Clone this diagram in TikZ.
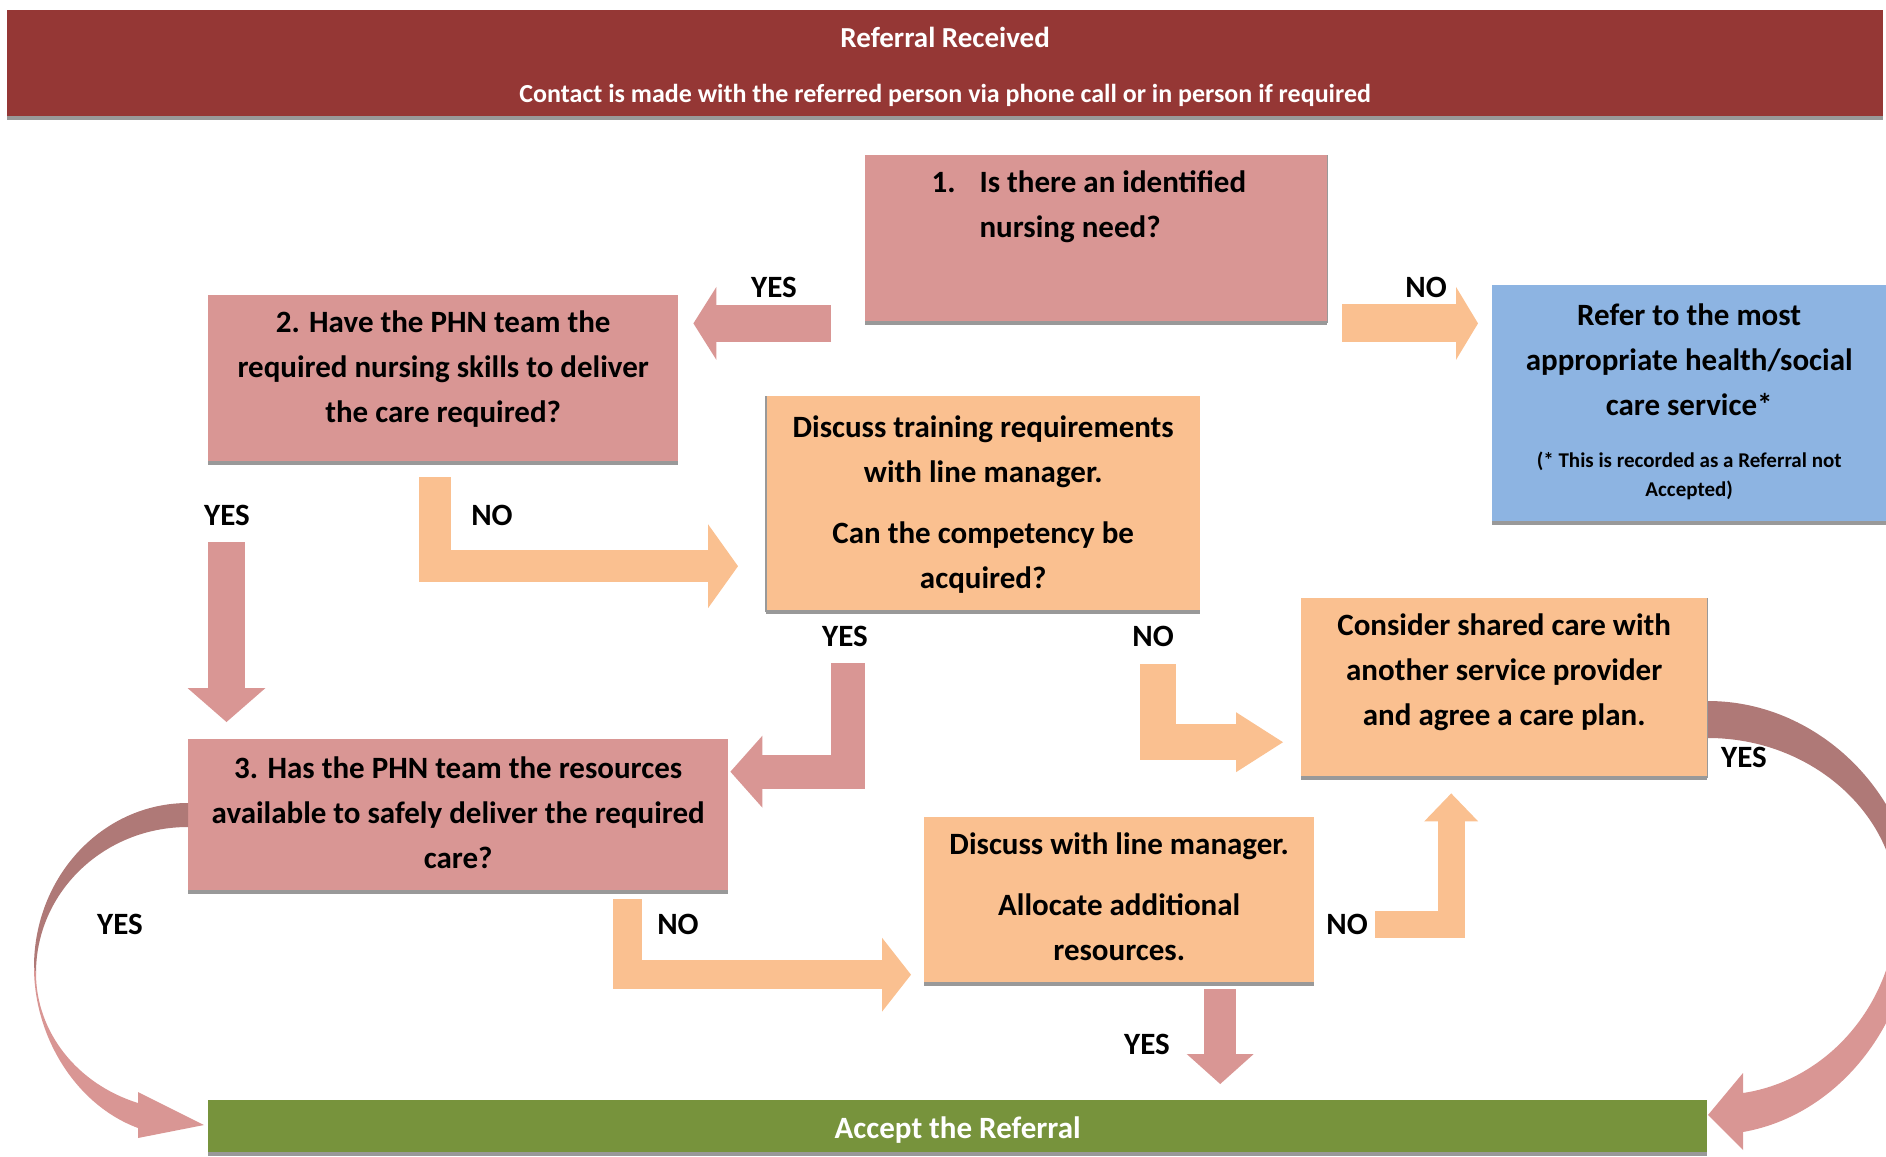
\documentclass[tikz,border=0pt]{standalone}
\usepackage{fontspec}
\setmainfont{Carlito}
\usetikzlibrary{arrows.meta, positioning, calc}
\definecolor{headred}{HTML}{953735}
\definecolor{rosefill}{HTML}{D99694}
\definecolor{peachfill}{HTML}{FAC090}
\definecolor{skyfill}{HTML}{8DB4E2}
\definecolor{leaffill}{HTML}{77933C}
\definecolor{mauve}{HTML}{AF7977}
\definecolor{edgegray}{HTML}{999999}
\tikzset{
  boxtext/.style={font=\fontsize{31}{45}\selectfont\bfseries}
}
\tikzset{
  flowbox/.style={boxtext, anchor=north west, inner sep=0pt, align=center},
  rosebox/.style={flowbox, fill=rosefill},
  peachbox/.style={flowbox, fill=peachfill},
  edgeline/.style={draw=edgegray, line width=4pt},
  headsize/.style 2 args={-{Triangle[length=#1, width=#2, line width=0pt]}},
  rosearrow/.style={draw=rosefill},
  peacharrow/.style={draw=peachfill}
}
\newcommand{\notetext}[1]{{\fontsize{21}{29}\selectfont\begin{tabular}[t]{@{}c@{}}#1\end{tabular}}}
\newcommand{\taildepth}[1]{\rule[-#1]{0pt}{0pt}}

\begin{document}
\begin{tikzpicture}[x=1pt, y=-1pt]
  \useasboundingbox (0,0) rectangle (1886,1156);
  \clip (0,0) rectangle (1886,1156);

  \node[flowbox, fill=headred, text=white, font=\fontsize{29}{45}\selectfont\bfseries,
        minimum width=1876pt, minimum height=108pt] (hdr) at (7,10)
    {\rule{0pt}{25pt}Referral Received\\[10pt]\fontsize{26}{45}\selectfont Contact is made with the referred person via phone call or in person if required};
  \node[rosebox, minimum width=462pt, minimum height=168pt] (b1) at (865,155) {};
  \node[boxtext, anchor=base west, align=left] (b1text) at ([xshift=63pt,yshift=-82pt]b1.north west)
    {\makebox[48pt][l]{1.}Is there an identified\\\hspace*{48pt}nursing need?};
  \node[rosebox, minimum width=470pt, minimum height=168pt] (b2) at (208,295)
    {2. Have the PHN team the\\required nursing skills to deliver\\the care required?\taildepth{26pt}};
  \node[flowbox, fill=skyfill, minimum width=394pt, minimum height=238pt] (refer) at (1492,285)
    {Refer to the most\\appropriate health/social\\care service*\\[7pt]\notetext{(* This is recorded as a Referral not\\Accepted)}};
  \node[peachbox, minimum width=434pt, minimum height=216pt] (train) at (766,396)
    {Discuss training requirements\\with line manager.\\[16pt]Can the competency be\\acquired?};
  \node[rosebox, minimum width=540pt, minimum height=153pt] (b3) at (188,739)
    {3. Has the PHN team the resources\\available to safely deliver the required\\care?\taildepth{7pt}};
  \node[peachbox, minimum width=406pt, minimum height=180pt] (shared) at (1301,598)
    {Consider shared care with\\another service provider\\and agree a care plan.\taildepth{38pt}};
  \node[peachbox, minimum width=390pt, minimum height=167pt] (discuss) at (924,817)
    {Discuss with line manager.\\[16pt]Allocate additional\\resources.\taildepth{8pt}};
  \node[flowbox, fill=leaffill, text=white, minimum width=1499pt, minimum height=54pt] (accept) at (208,1100)
    {\rule{0pt}{27pt}Accept the Referral};
  \foreach \n in {hdr,b1,b2,refer,train,b3,shared,discuss,accept}
    \draw[edgeline] (\n.south west) -- (\n.south east);
  \draw[edgeline, line width=1.5pt] (b1.north east) -- (b1.south east);
  \draw[edgeline, line width=1.5pt] (train.north west) -- (train.south west);
  \draw[edgeline, line width=1.5pt] (shared.north east) -- (shared.south east);

  \draw[rosearrow, line width=37pt, headsize={23pt}{73pt}] ([xshift=-34pt]b1.south west) -- ([xshift=15pt]b2.east |- b1.south west);
  \draw[peacharrow, line width=38pt, headsize={22pt}{73pt}] ([xshift=15pt]b1.south east) -- ([xshift=-14pt]refer.west |- b1.south east);
  \draw[peacharrow, line width=32pt, headsize={30pt}{84pt}] ([xshift=-8pt,yshift=-14pt]b2.south) |- ([xshift=-28pt,yshift=-62pt]train.west);
  \draw[rosearrow, line width=37pt, headsize={34pt}{78pt}] ([xshift=18.5pt,yshift=-79pt]b2.south west) -- ([xshift=18.5pt,yshift=17pt]b2.south west |- b3.north);
  \draw[rosearrow, line width=34pt, headsize={32pt}{72pt}] ([xshift=-135pt,yshift=-51pt]train.south) |- ([xshift=2pt,yshift=44pt]b3.east);
  \draw[peacharrow, line width=36pt, headsize={47pt}{60pt}] ([xshift=175pt,yshift=-52pt]train.south) |- ([xshift=-18pt,yshift=-54pt]shared.west);
  \draw[peacharrow, line width=29pt, headsize={29pt}{74pt}] ([xshift=169pt,yshift=-7pt]b3.south) |- ([xshift=-13pt,yshift=-74pt]discuss.west);
  \draw[peacharrow, line width=27pt, headsize={28pt}{54pt}] ([xshift=61pt,yshift=-24pt]discuss.east) -| ([xshift=-53pt,yshift=-15pt]shared.south);
  \draw[rosearrow, line width=32pt, headsize={30pt}{67pt}] ([xshift=101pt,yshift=-5pt]discuss.south) -- ([xshift=101pt,yshift=16pt]discuss.south |- accept.north);

  % curved YES arrows, darker on the upper half
  \fill[mauve] (188,803) .. controls (103,803) and (34,876) .. (34,967) -- (36,973) .. controls (36,892) and (104,827) .. (188,827) -- cycle;
  \fill[rosefill] (34,967) .. controls (34,1037) and (76,1105) .. (138,1128) -- (138,1138) -- (204,1125) -- (138,1092) -- (138,1103) .. controls (77,1084) and (36,1032) .. (36,973) -- cycle;
  \fill[mauve] (1708,701) .. controls (1822,701) and (1915,800) .. (1915,905) -- (1897,905) .. controls (1897,815) and (1812,738) .. (1708,738) -- cycle;
  \fill[rosefill] (1915,905) .. controls (1915,1020) and (1840,1115) .. (1743,1132) -- (1743,1150) -- (1708,1115) -- (1743,1073) -- (1743,1093) .. controls (1830,1080) and (1897,1000) .. (1897,905) -- cycle;

  \node[boxtext] (yes1) at (774,287) {YES};
  \node[boxtext] (no1) at (1426,287) {NO};
  \node[boxtext] (yes2) at (227,515) {YES};
  \node[boxtext] (no2) at (492,515) {NO};
  \node[boxtext] (yes3) at (845,636) {YES};
  \node[boxtext] (no3) at (1153,636) {NO};
  \node[boxtext] (yes4) at (120,924) {YES};
  \node[boxtext] (no4) at (678,924) {NO};
  \node[boxtext] (no5) at (1347,924) {NO};
  \node[boxtext] (yes5) at (1147,1044) {YES};
  \node[boxtext] (yes6) at (1744,757) {YES};
\end{tikzpicture}
\end{document}
